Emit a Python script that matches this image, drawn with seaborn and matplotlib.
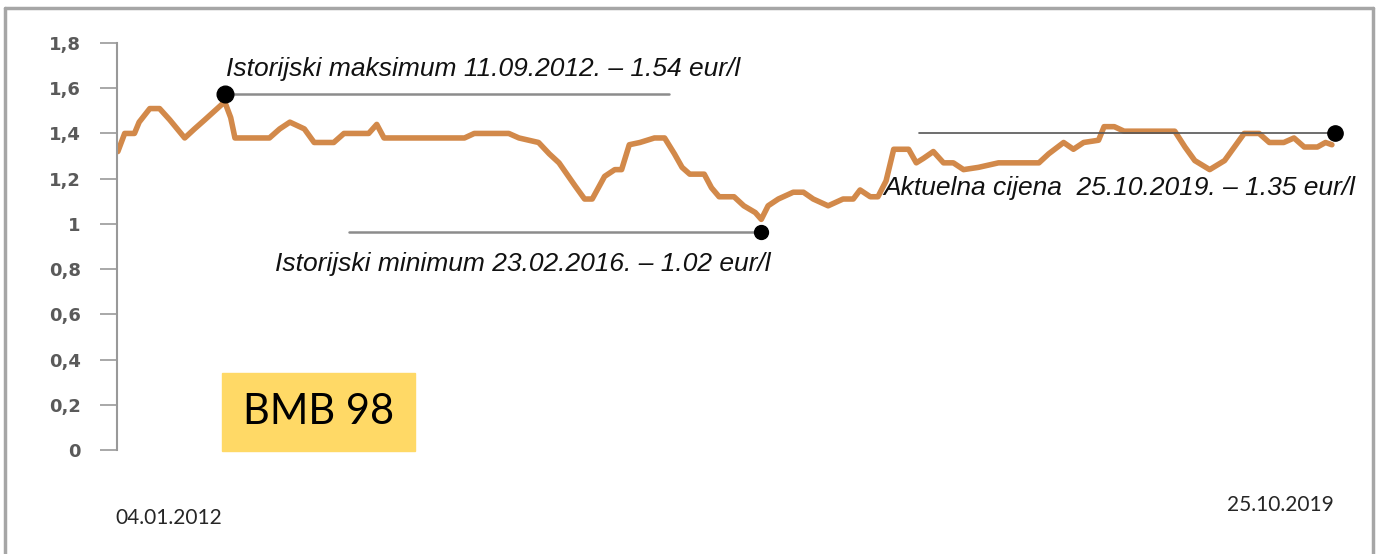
import numpy as np
import pandas as pd
import seaborn as sns
import matplotlib.pyplot as plt
from matplotlib.patches import Rectangle
from matplotlib.lines import Line2D

# cijena BMB 98 (eur/l), ocitano s grafikona
dates = ["2012-01-04", "2012-01-20", "2012-02-12", "2012-02-23", "2012-03-19", "2012-04-11",
         "2012-05-05", "2012-06-09", "2012-07-02", "2012-07-26", "2012-09-11", "2012-09-25",
         "2012-10-05", "2012-12-25", "2013-01-18", "2013-02-11", "2013-03-17", "2013-04-09",
         "2013-05-25", "2013-06-18", "2013-08-15", "2013-09-03", "2013-09-20", "2014-03-28",
         "2014-04-20", "2014-07-10", "2014-08-03", "2014-09-18", "2014-10-13", "2014-11-05",
         "2014-12-12", "2015-01-04", "2015-01-22", "2015-02-20", "2015-03-16", "2015-04-01",
         "2015-04-19", "2015-05-14", "2015-06-17", "2015-07-11", "2015-08-03", "2015-08-21",
         "2015-09-08", "2015-10-12", "2015-10-29", "2015-11-16", "2015-12-21", "2016-01-13",
         "2016-02-09", "2016-02-23", "2016-03-10", "2016-04-03", "2016-05-08", "2016-06-01",
         "2016-06-24", "2016-07-29", "2016-09-02", "2016-09-26", "2016-10-12", "2016-11-05",
         "2016-11-23", "2016-12-12", "2016-12-30", "2017-02-03", "2017-02-21", "2017-03-10",
         "2017-04-02", "2017-04-26", "2017-05-19", "2017-06-12", "2017-07-17", "2017-09-02",
         "2017-12-06", "2017-12-29", "2018-02-02", "2018-02-25", "2018-03-21", "2018-04-25",
         "2018-05-08", "2018-06-01", "2018-06-24", "2018-10-21", "2018-11-14", "2018-12-07",
         "2019-01-11", "2019-02-15", "2019-03-10", "2019-04-02", "2019-05-07", "2019-05-31",
         "2019-07-04", "2019-07-28", "2019-08-21", "2019-09-21", "2019-10-10", "2019-10-25"]
prices = [1.32, 1.40, 1.40, 1.45, 1.51, 1.51,
          1.46, 1.38, 1.42, 1.46, 1.54, 1.47,
          1.38, 1.38, 1.42, 1.45, 1.42, 1.36,
          1.36, 1.40, 1.40, 1.44, 1.38, 1.38,
          1.40, 1.40, 1.38, 1.36, 1.31, 1.27,
          1.17, 1.11, 1.11, 1.21, 1.24, 1.24,
          1.35, 1.36, 1.38, 1.38, 1.31, 1.25,
          1.22, 1.22, 1.16, 1.12, 1.12, 1.08,
          1.05, 1.02, 1.08, 1.11, 1.14, 1.14,
          1.11, 1.08, 1.11, 1.11, 1.15, 1.12,
          1.12, 1.19, 1.33, 1.33, 1.27, 1.29,
          1.32, 1.27, 1.27, 1.24, 1.25, 1.27,
          1.27, 1.31, 1.36, 1.33, 1.36, 1.37,
          1.43, 1.43, 1.41, 1.41, 1.34, 1.28,
          1.24, 1.28, 1.34, 1.40, 1.40, 1.36,
          1.36, 1.38, 1.34, 1.34, 1.36, 1.35]

# oznake (tacka, pocetak linije, tekst)
mark_dates = ["2012-09-11", "2016-02-23", "2019-11-01"]
mark_values = [1.575, 0.965, 1.40]
line_ends = ["2015-07-22", "2013-06-30", "2017-02-28"]
mark_texts = ["Istorijski maksimum 11.09.2012. \u2013 1.54 eur/l",
              "Istorijski minimum 23.02.2016. \u2013 1.02 eur/l",
              "Aktuelna cijena  25.10.2019. \u2013 1.35 eur/l"]
text_dates = ["2012-09-14", "2013-01-07", "2016-12-06"]
text_values = [1.685, 0.823, 1.159]

yticks = [0, 0.2, 0.4, 0.6, 0.8, 1.0, 1.2, 1.4, 1.6, 1.8]
ytick_labels = ["0", "0,2", "0,4", "0,6", "0,8", "1", "1,2", "1,4", "1,6", "1,8"]

sns.set_style("white")
plt.rcParams['font.family'] = ['Liberation Sans', 'DejaVu Sans']

W, H = 1379, 554
fig = plt.figure(figsize=(W / 100, H / 100), dpi=100)
ax = fig.add_axes([117 / W, 1 - 450 / H, (1360 - 117) / W, (450 - 43) / H])

df = pd.DataFrame({"datum": pd.to_datetime(dates), "cijena": prices})
sns.lineplot(data=df, x="datum", y="cijena", ax=ax, color="#d2894a", lw=4)

md = pd.to_datetime(mark_dates)
le = pd.to_datetime(line_ends)
ax.plot([md[0], le[0]], [mark_values[0]] * 2, color="#8c8c8c", lw=1.8, zorder=3)
ax.plot([le[1], md[1]], [mark_values[1]] * 2, color="#8c8c8c", lw=1.8, zorder=3)
ax.plot([le[2], md[2]], [mark_values[2]] * 2, color="#555555", lw=1.2, zorder=3)
ax.plot(md[:1], mark_values[:1], "o", color="black", ms=12, zorder=4)
ax.plot(md[1:2], mark_values[1:2], "o", color="black", ms=10, zorder=4)
ax.plot(md[2:], mark_values[2:], "o", color="black", ms=11, zorder=4)

for t, d, v in zip(mark_texts, pd.to_datetime(text_dates), text_values):
    ax.text(d, v, t, style="italic", fontsize=19, va="center", ha="left", color="#111111")

ax.set_xlim(pd.Timestamp("2012-01-02"), pd.Timestamp("2019-12-30"))
ax.set_ylim(0, 1.8)
ax.set_yticks(yticks)
ax.set_yticklabels(ytick_labels, fontfamily="DejaVu Sans", fontsize=13,
                   color="#5a5a5a", fontweight="bold")
ax.tick_params(axis="y", left=True, length=12, width=1.2, color="#999999", pad=14)
ax.set_xticks([])
ax.set_xlabel("")
ax.set_ylabel("")
for s in ["top", "right", "bottom"]:
    ax.spines[s].set_visible(False)
ax.spines["left"].set_color("#999999")
ax.spines["left"].set_linewidth(1.5)
ax.patch.set_alpha(0)

# zuta oznaka goriva
fig.add_artist(Rectangle((222 / W, 1 - 451 / H), 193 / W, 78 / H,
                         transform=fig.transFigure, color="#ffd966", zorder=1))
fig.text(319 / W, 1 - 412 / H, "BMB 98", fontfamily="Lato", fontsize=30,
         ha="center", va="center", color="black")

fig.text(115 / W, 1 - 518 / H, "04.01.2012", fontfamily="Lato", fontsize=15,
         ha="left", va="center")
fig.text(1227 / W, 1 - 505 / H, "25.10.2019", fontfamily="Lato", fontsize=15,
         ha="left", va="center")

# okvir
fig.add_artist(Line2D([5 / W, 5 / W], [0, 1 - 8 / H], transform=fig.transFigure,
                      color="#a6a6a6", lw=2.5))
fig.add_artist(Line2D([5 / W, 1373 / W], [1 - 8 / H, 1 - 8 / H], transform=fig.transFigure,
                      color="#a6a6a6", lw=2.5))
fig.add_artist(Line2D([1373 / W, 1373 / W], [0, 1 - 8 / H], transform=fig.transFigure,
                      color="#a6a6a6", lw=2.5))

fig.savefig("out.png", dpi=100)
